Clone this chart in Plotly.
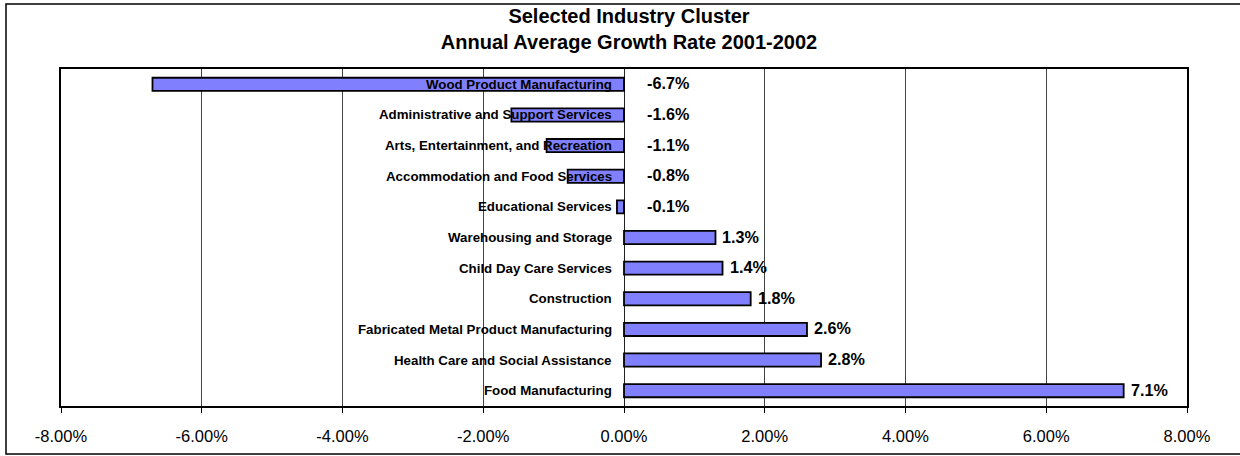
import plotly.graph_objects as go

# Industry clusters, top to bottom, with their annual average growth rate (%)
industries = [
    "Wood Product Manufacturing",
    "Administrative and Support Services",
    "Arts, Entertainment, and Recreation",
    "Accommodation and Food Services",
    "Educational Services",
    "Warehousing and Storage",
    "Child Day Care Services",
    "Construction",
    "Fabricated Metal Product Manufacturing",
    "Health Care and Social Assistance",
    "Food Manufacturing",
]
growth = [-6.7, -1.6, -1.1, -0.8, -0.1, 1.3, 1.4, 1.8, 2.6, 2.8, 7.1]
x_ticks = [-8, -6, -4, -2, 0, 2, 4, 6, 8]

FONT = "Arial, 'Liberation Sans', sans-serif"
W, H = 1240, 456
ML, MR, MT, MB = 61, 53, 69, 50

fig = go.Figure()
fig.add_trace(go.Bar(
    x=growth,
    y=industries,
    orientation="h",
    marker=dict(color="#8080FF", line=dict(color="#000000", width=1.8)),
    width=0.43,
    hoverinfo="x+y",
))

# Category names sit just left of the zero line, drawn over the bars
for name in industries:
    fig.add_annotation(
        x=0, y=name, xref="x", yref="y",
        text=f"<b>{name}</b>", showarrow=False,
        xanchor="right", yanchor="middle", xshift=-10,
        font=dict(family=FONT, size=13.3, color="#000000"),
    )

# Value labels: right of the bar end (or right of zero for declines)
for name, v in zip(industries, growth):
    fig.add_annotation(
        x=max(v, 0), y=name, xref="x", yref="y",
        text=f"<b>{v:.1f}%</b>", showarrow=False,
        xanchor="left", yanchor="middle",
        xshift=21 if v < 0 else 5, yshift=1,
        font=dict(family=FONT, size=16.2, color="#000000"),
    )

pw = W - ML - MR
ph = H - MT - MB
# Outer chart frame
fig.add_shape(
    type="rect", xref="paper", yref="paper",
    x0=(6 - ML) / pw, x1=(W + 10 - ML) / pw,
    y0=-(454 - (H - MB)) / ph, y1=(H - MB - 4) / ph,
    line=dict(color="#000000", width=1.5), fillcolor="rgba(0,0,0,0)",
    layer="below",
)

fig.update_layout(
    width=W, height=H,
    margin=dict(l=ML, r=MR, t=MT, b=MB, autoexpand=False),
    paper_bgcolor="#FFFFFF", plot_bgcolor="#FFFFFF",
    showlegend=False,
    bargap=0.57,
    title=dict(
        text="<b>Selected Industry Cluster<br>Annual Average Growth Rate 2001-2002</b>",
        x=629 / W, xanchor="center",
        y=1 - 23 / H, yanchor="top",
        font=dict(family=FONT, size=20, color="#000000"),
    ),
    font=dict(family=FONT, color="#000000"),
    xaxis=dict(
        range=[-8, 8],
        tickvals=x_ticks,
        ticktext=[f"{t:.2f}%" for t in x_ticks],
        tickfont=dict(family=FONT, size=16.5, color="#000000"),
        ticklabelstandoff=9,
        automargin=False,
        showgrid=True, gridcolor="#444444", gridwidth=1,
        zeroline=True, zerolinecolor="#222222", zerolinewidth=1,
        showline=True, linecolor="#000000", linewidth=1.5, mirror=True,
        ticks="outside", ticklen=5, tickcolor="#000000",
        fixedrange=True,
    ),
    yaxis=dict(
        autorange="reversed",
        showticklabels=False,
        automargin=False,
        showgrid=False, zeroline=False,
        showline=True, linecolor="#000000", linewidth=1.5, mirror=True,
        ticks="",
        fixedrange=True,
    ),
)

fig.write_html("out.html")
